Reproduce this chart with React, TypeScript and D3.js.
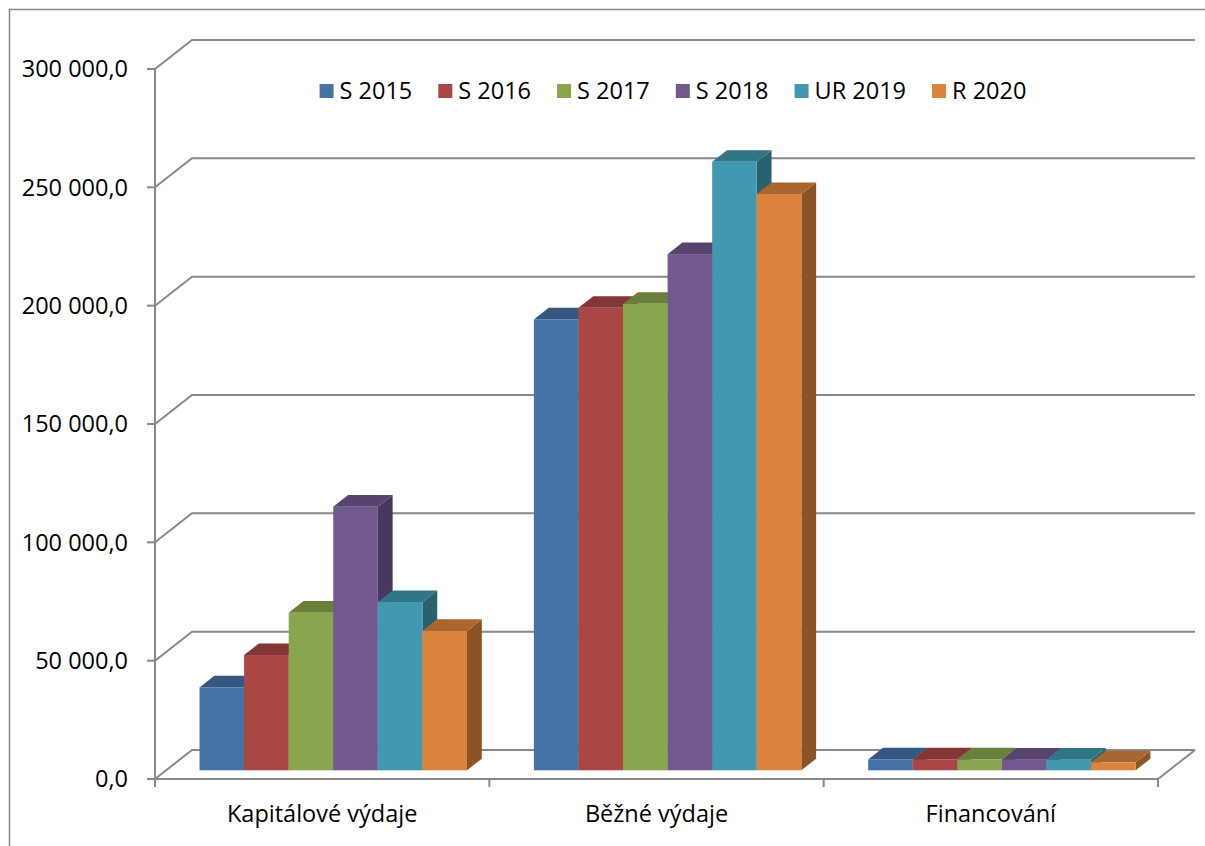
import React, { useEffect, useRef } from "react";
import * as d3 from "d3";

const categories = ["Kapitálové výdaje", "Běžné výdaje", "Financování"];
const seriesNames = ["S 2015", "S 2016", "S 2017", "S 2018", "UR 2019", "R 2020"];
const s2015 = [35000, 190500, 4600];
const s2016 = [48700, 195400, 4600];
const s2017 = [66600, 197100, 4600];
const s2018 = [111400, 218100, 4500];
const ur2019 = [71100, 257100, 4500];
const r2020 = [58900, 243500, 3400];
const seriesValues = [s2015, s2016, s2017, s2018, ur2019, r2020];
const yTicks = [0, 50000, 100000, 150000, 200000, 250000, 300000];
const colors = ["#4572A7", "#AA4643", "#89A54E", "#71588F", "#4198AF", "#DB843D"];

const W = 1205;
const H = 846;
const FONT = "'Open Sans', sans-serif";

export default function App() {
  const ref = useRef<SVGSVGElement>(null);

  useEffect(() => {
    const svg = d3.select(ref.current);
    svg.selectAll("*").remove();

    const x0 = 155, x1 = 1158;
    const yZero = 779, yTop = 69;
    const depthX = 37, depthY = 29;
    const barFront = 0.3, barDepth = 0.4;
    const grid = "#898989";

    const y = d3.scaleLinear().domain([0, 300000]).range([yZero, yTop]);
    const xCat = d3.scaleBand<string>().domain(categories).range([x0, x1]).padding(0);
    const xSer = d3.scaleBand<string>().domain(seriesNames).range([0, xCat.bandwidth()]).paddingInner(0).paddingOuter(0.75);

    const loc = d3.formatLocale({ decimal: ",", thousands: " ", grouping: [3], currency: ["", ""] });
    const fmt = loc.format(",.1f");

    // chart border
    svg.append("rect").attr("x", 9.5).attr("y", 9.5).attr("width", W + 20).attr("height", H + 20)
      .attr("fill", "none").attr("stroke", "#868686").attr("stroke-width", 1.5);

    // walls gridlines (side wall diagonal + back wall horizontal)
    const gl = svg.append("g");
    yTicks.forEach((t) => {
      const yy = y(t);
      gl.append("path")
        .attr("d", `M${x0},${yy} L${x0 + depthX},${yy - depthY} L${x1 + depthX},${yy - depthY}`)
        .attr("fill", "none").attr("stroke", grid).attr("stroke-width", 2);
    });
    // floor outline
    gl.append("path")
      .attr("d", `M${x0},${yZero} L${x1},${yZero} L${x1 + depthX},${yZero - depthY}`)
      .attr("fill", "none").attr("stroke", grid).attr("stroke-width", 2);

    // value axis
    gl.append("line").attr("x1", x0).attr("x2", x0).attr("y1", yTop).attr("y2", yZero)
      .attr("stroke", grid).attr("stroke-width", 2);
    yTicks.forEach((t) => {
      gl.append("line").attr("x1", x0 - 8).attr("x2", x0).attr("y1", y(t)).attr("y2", y(t))
        .attr("stroke", grid).attr("stroke-width", 2);
      svg.append("text").attr("x", 128).attr("y", y(t)).attr("dy", "0.36em")
        .attr("text-anchor", "end").attr("font-family", FONT).attr("font-size", 23.5)
        .attr("fill", "#000").text(fmt(t));
    });

    // category ticks
    const bounds = categories.map((c) => xCat(c) as number).concat([x1]);
    bounds.forEach((bx) => {
      gl.append("line").attr("x1", bx).attr("x2", bx).attr("y1", yZero).attr("y2", yZero + 8)
        .attr("stroke", grid).attr("stroke-width", 2);
    });
    categories.forEach((c) => {
      svg.append("text").attr("x", (xCat(c) as number) + xCat.bandwidth() / 2).attr("y", 822)
        .attr("text-anchor", "middle").attr("font-family", FONT).attr("font-size", 23.5)
        .attr("fill", "#000").text(c);
    });

    // bars
    const fdx = depthX * barFront, fdy = depthY * barFront;
    const bdx = depthX * barDepth, bdy = depthY * barDepth;
    const bars = svg.append("g");
    categories.forEach((c, ci) => {
      seriesNames.forEach((s, si) => {
        const v = seriesValues[si][ci];
        const bx = (xCat(c) as number) + (xSer(s) as number) + fdx;
        const bw = xSer.bandwidth();
        const yb = yZero - fdy;
        const yt = y(v) - fdy;
        const base = d3.color(colors[si]) as d3.RGBColor;
        const top = d3.rgb(base.r * 0.77, base.g * 0.77, base.b * 0.77).formatHex();
        const side = d3.rgb(base.r * 0.635, base.g * 0.635, base.b * 0.635).formatHex();
        const g = bars.append("g");
        g.append("path")
          .attr("d", `M${bx + bw},${yt} L${bx + bw + bdx},${yt - bdy} L${bx + bw + bdx},${yb - bdy} L${bx + bw},${yb} Z`)
          .attr("fill", side);
        g.append("path")
          .attr("d", `M${bx},${yt} L${bx + bdx},${yt - bdy} L${bx + bw + bdx},${yt - bdy} L${bx + bw},${yt} Z`)
          .attr("fill", top);
        g.append("rect").attr("x", bx).attr("y", yt).attr("width", bw).attr("height", yb - yt)
          .attr("fill", colors[si]);
      });
    });

    // legend
    const lg = svg.append("g");
    const items = seriesNames.map((s, i) => {
      const it = lg.append("g");
      it.append("rect").attr("x", 0).attr("y", 84).attr("width", 14).attr("height", 14).attr("fill", colors[i]);
      const tx = it.append("text").attr("x", 20).attr("y", 99).attr("font-family", FONT)
        .attr("font-size", 23.5).attr("fill", "#000").text(s);
      const w = (tx.node() as SVGTextElement).getComputedTextLength();
      return { it, w: 20 + w };
    });
    const gap = 26;
    const total = d3.sum(items, (d) => d.w) + gap * (items.length - 1);
    let cx = 673 - total / 2;
    items.forEach((d) => {
      d.it.attr("transform", `translate(${cx},0)`);
      cx += d.w + gap;
    });
  }, []);

  return (
    <svg ref={ref} width={W} height={H}
      style={{ position: "absolute", left: 0, top: 0, background: "#fff" }} />
  );
}
